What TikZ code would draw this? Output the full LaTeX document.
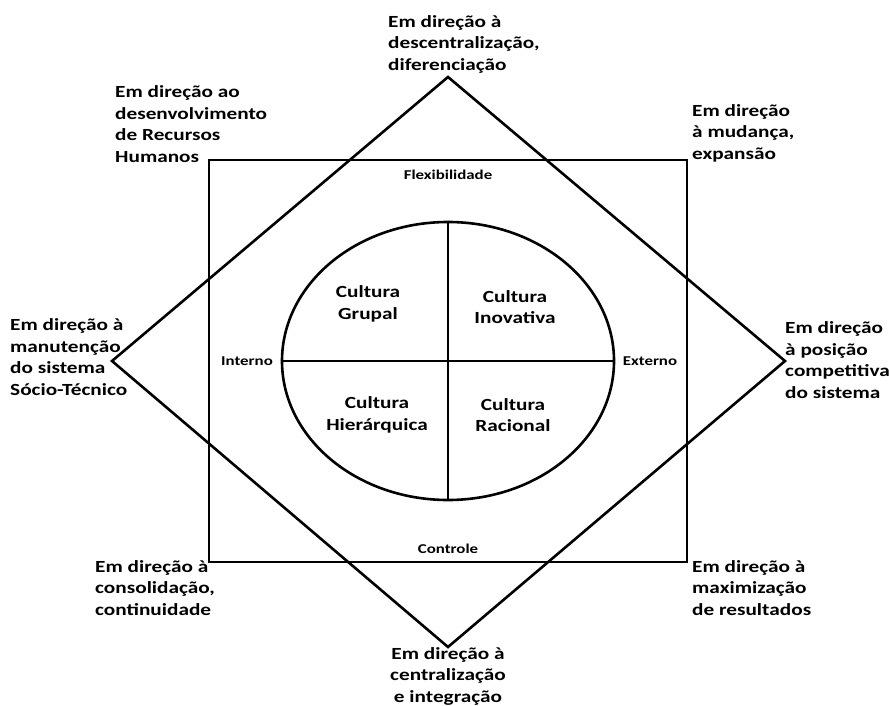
\documentclass[tikz,border=0pt]{standalone}
\usepackage{fontspec}
\setmainfont{Carlito}[FakeStretch=1.25]
\usetikzlibrary{positioning,shapes.geometric}

\begin{document}
\begin{tikzpicture}[x=1pt, y=-1pt,
    frame/.style={draw, line width=2.6pt},
    dirlbl/.style={font=\fontsize{17}{21.5}\selectfont\bfseries, align=left, anchor=west, inner sep=0pt},
    cult/.style={font=\fontsize{17}{21.5}\selectfont\bfseries, align=center, inner sep=0pt},
    axislbl/.style={font=\fontsize{13.5}{15}\selectfont\bfseries, inner sep=0pt}
]
\useasboundingbox (0,0) rectangle (889,706);

% Shapes
\node[frame, minimum width=478pt, minimum height=402pt] (sq) at (448,361) {};
\node[frame, ellipse, minimum width=332pt, minimum height=278pt] (oval) at (448,361) {};
\coordinate (dtop) at (448,77);
\coordinate (dright) at (785,361);
\coordinate (dbot) at (448,647);
\coordinate (dleft) at (112,361);
\draw[line width=2.6pt, line join=miter] (dtop) -- (dright) -- (dbot) -- (dleft) -- cycle;

% Cross
\draw[line width=2.6pt] (oval.north) -- (oval.south);
\draw[line width=2.6pt] (oval.west) -- (oval.east);

% Axis labels
\node[axislbl, below=11pt of sq.north] (flex) {Flexibilidade};
\node[axislbl, above=10pt of sq.south] (ctrl) {Controle};
\node[axislbl] (intern) at (247,361) {Interno};
\node[axislbl] (extern) at (650,361) {Externo};

% Cultures
\node[cult] (grupal) at (368,304) {Cultura\\Grupal};
\node[cult] (inov) at (515,307) {Cultura\\Inovativa};
\node[cult] (hier) at (377,415) {Cultura\\Hierárquica};
\node[cult] (racio) at (513,415) {Cultura\\Racional};

% Directions
\node[dirlbl] (ntop) at (388,44) {Em direção à\\descentralização,\\diferenciação};
\node[dirlbl] (ntl) at (115,124) {Em direção ao\\desenvolvimento\\de Recursos\\Humanos};
\node[dirlbl] (ntr) at (692,133) {Em direção\\à mudança,\\expansão};
\node[dirlbl] (nleft) at (10,357) {Em direção à\\manutenção\\do sistema\\Sócio-Técnico};
\node[dirlbl] (nright) at (785,360) {Em direção\\à posição\\competitiva\\do sistema};
\node[dirlbl] (nbl) at (95,588) {Em direção à\\consolidação,\\continuidade};
\node[dirlbl] (nbr) at (692,588) {Em direção à\\maximização\\de resultados};
\node[dirlbl, anchor=center, align=center] (nbot) at (448,676) {Em direção à\\centralização\\e integração};

\end{tikzpicture}
\end{document}
